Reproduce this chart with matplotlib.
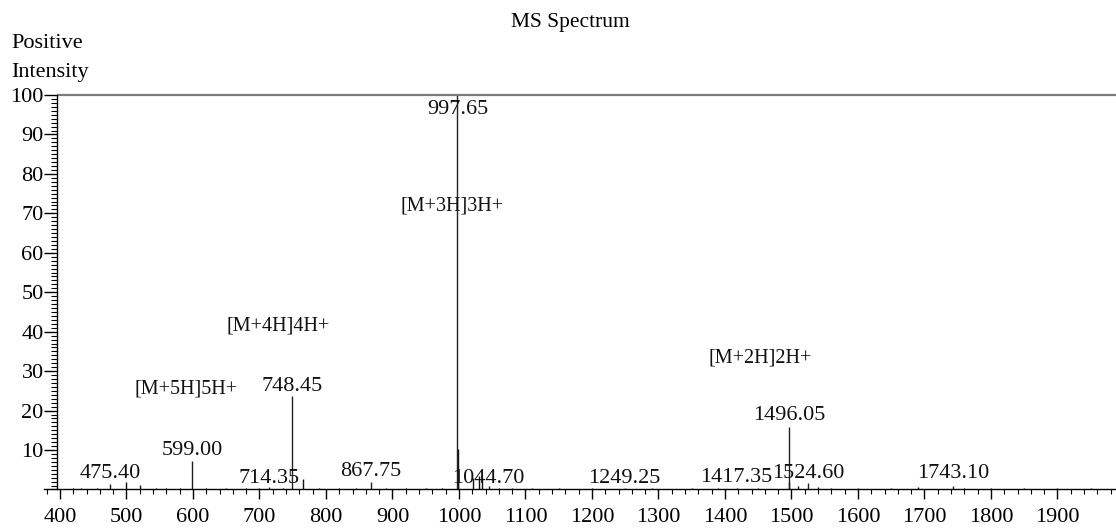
import matplotlib
matplotlib.use("Agg")
import matplotlib.pyplot as plt
from matplotlib.ticker import MultipleLocator, FixedLocator

plt.rcParams["font.family"] = ["Liberation Serif", "DejaVu Serif"]

# Labelled peaks (m/z, relative intensity %)
peak_mz = [475.40, 599.00, 714.35, 748.45, 867.75, 997.65,
           1044.70, 1249.25, 1417.35, 1496.05, 1524.60, 1743.10]
peak_int = [1.4, 7.3, 0.6, 23.7, 2.0, 100.0,
            0.8, 0.4, 0.5, 15.9, 1.6, 1.0]
peak_text = ["475.40", "599.00", "714.35", "748.45", "867.75", "997.65",
             "1044.70", "1249.25", "1417.35", "1496.05", "1524.60", "1743.10"]
# height (in intensity units) at which each m/z label is centred
peak_label_y = [4.1, 9.9, 2.7, 26.1, 4.6, 96.3,
                2.7, 2.7, 3.1, 18.8, 4.1, 4.1]

# Unlabelled isotope / background peaks
minor_mz = [420, 432, 455, 500, 520, 545, 560, 580, 620, 650, 680, 700,
            735, 765, 790, 820, 845, 890, 920, 950, 975, 998.0, 998.3,
            1021, 1030, 1034.5, 1060, 1080, 1110, 1150, 1200, 1290, 1350,
            1390, 1450, 1496.5, 1510, 1540, 1560, 1600, 1650, 1690, 1760,
            1800, 1850, 1900, 1950]
minor_int = [0.3, 0.5, 0.3, 2.0, 1.2, 0.3, 0.4, 0.3, 0.4, 0.3, 0.3, 0.4,
             0.4, 2.6, 0.4, 0.3, 0.3, 0.4, 0.3, 0.3, 0.4, 10.2, 5.0,
             2.8, 3.4, 3.2, 0.5, 0.4, 0.3, 0.3, 0.3, 0.3, 0.3,
             0.3, 0.3, 1.8, 0.8, 0.6, 0.5, 0.4, 0.3, 0.6, 0.5,
             0.3, 0.4, 0.3, 0.3]

# Charge-state annotations
ion_text = ["[M+5H]5H+", "[M+4H]4H+", "[M+3H]3H+", "[M+2H]2H+"]
ion_mz = [589.5, 727.8, 989.5, 1452.6]
ion_y = [25.4, 41.4, 71.8, 33.3]

x_ticks = list(range(400, 2000, 100))
y_ticks = list(range(10, 110, 10))

FS = 16

fig = plt.figure(figsize=(11.16, 5.29), dpi=100)
ax = fig.add_axes([0.0394, 0.0747, 0.9606, 0.7457])
ax.set_xlim(376, 1988)
ax.set_ylim(0, 100)

# spectrum sticks
ax.vlines(minor_mz, 0, minor_int, color="#111111", linewidth=1.0)
ax.vlines(peak_mz, 0, peak_int, color="#222222", linewidth=1.0)

for mz, ly, txt in zip(peak_mz, peak_label_y, peak_text):
    ax.text(mz, ly, txt, ha="center", va="center", fontsize=FS, color="#111111")

for mz, y, txt in zip(ion_mz, ion_y, ion_text):
    ax.text(mz, y, txt, ha="center", va="center", fontsize=14.5, color="#111111")

# frame: y axis sits at the start of the scale, a grey rule closes the top
for side in ("top", "right"):
    ax.spines[side].set_visible(False)
ax.spines["left"].set_position(("data", 395.5))
ax.spines["left"].set_linewidth(1.0)
ax.spines["bottom"].set_linewidth(1.0)
ax.plot([395.5, 1988], [100, 100], color="#7a7a7a", linewidth=1.6,
        clip_on=False, solid_capstyle="butt")

ax.xaxis.set_major_locator(FixedLocator(x_ticks))
ax.xaxis.set_minor_locator(MultipleLocator(20))
ax.yaxis.set_major_locator(FixedLocator(y_ticks))
ax.yaxis.set_minor_locator(MultipleLocator(1))
ax.tick_params(axis="x", which="major", direction="out", length=7.5, width=1.0,
               labelsize=FS, pad=5.5)
ax.tick_params(axis="x", which="minor", direction="out", length=3.5, width=0.8)
ax.tick_params(axis="y", which="major", direction="out", length=9.5, width=1.0,
               labelsize=FS, pad=0)
ax.tick_params(axis="y", which="minor", direction="out", length=4.5, width=0.8)

fig.text(570 / 1116, 1 - 22 / 529, "MS Spectrum", ha="center", va="center",
         fontsize=15.5)
fig.text(11 / 1116, 1 - 43 / 529, "Positive", ha="left", va="center", fontsize=FS)
fig.text(11 / 1116, 1 - 72 / 529, "Intensity", ha="left", va="center", fontsize=FS)

fig.savefig("out.png", dpi=100)
